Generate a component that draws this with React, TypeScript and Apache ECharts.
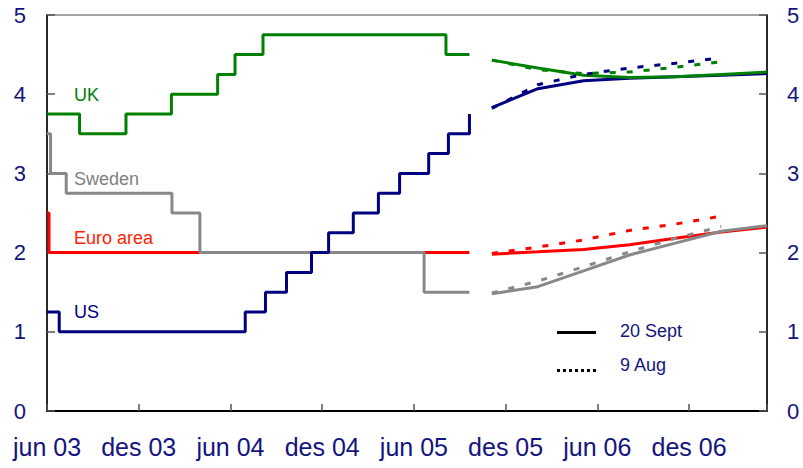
import React, { useEffect, useRef } from "react";
import * as echarts from "echarts";

// ---- tick labels ----
const xTickLabels = ["jun 03", "des 03", "jun 04", "des 04", "jun 05", "des 05", "jun 06", "des 06"];
const axisStart = "2003-06-01";
const axisEnd = "2007-05-04";

// ---- policy rates (change dates and new level) ----
const ukDates = ["2003-06-01", "2003-08-05", "2003-11-06", "2004-02-05", "2004-05-06", "2004-06-10", "2004-08-05", "2005-08-04", "2005-09-20"];
const ukRates = [3.75, 3.5, 3.75, 4.0, 4.25, 4.5, 4.75, 4.5, 4.5];

const usDates = ["2003-06-01", "2003-06-25", "2004-06-30", "2004-08-10", "2004-09-21", "2004-11-10", "2004-12-14", "2005-02-02", "2005-03-22", "2005-05-03", "2005-06-30", "2005-08-09", "2005-09-20"];
const usRates = [1.25, 1.0, 1.25, 1.5, 1.75, 2.0, 2.25, 2.5, 2.75, 3.0, 3.25, 3.5, 3.75];

const euroDates = ["2003-06-01", "2003-06-05", "2005-09-20"];
const euroRates = [2.5, 2.0, 2.0];

const swedenDates = ["2003-06-01", "2003-06-08", "2003-07-09", "2004-02-06", "2004-04-01", "2005-06-21", "2005-09-20"];
const swedenRates = [3.5, 3.0, 2.75, 2.5, 2.0, 1.5, 1.5];

// ---- forward rates ----
const fcDates = ["2005-11-04", "2006-02-04", "2006-05-04", "2006-08-04", "2006-11-04", "2007-02-04", "2007-05-04"];
// 20 Sept
const ukSep = [4.43, 4.33, 4.24, 4.21, 4.22, 4.25, 4.28];
const usSep = [3.83, 4.07, 4.17, 4.2, 4.22, 4.24, 4.26];
const euroSep = [1.98, 2.01, 2.04, 2.1, 2.18, 2.26, 2.32];
const swedenSep = [1.48, 1.57, 1.77, 1.97, 2.12, 2.27, 2.34];
// 9 Aug
const ukAug = [4.43, 4.31, 4.26, 4.28, 4.34, 4.41];
const usAug = [3.82, 4.12, 4.25, 4.33, 4.39, 4.46];
const euroAug = [1.99, 2.07, 2.16, 2.28, 2.36, 2.46];
const swedenAug = [1.49, 1.64, 1.82, 2.01, 2.18, 2.33];

const GREEN = "#008000";
const NAVY = "#000080";
const RED = "#ff0000";
const GRAY = "#888888";
const TEXT_NAVY = "#14147e";
const FONT = "'Liberation Sans', Arial, sans-serif";

function months(iso: string): number {
  const [y, mo, d] = iso.split("-").map(Number);
  const dim = new Date(y, mo, 0).getDate();
  const [y0, m0] = axisStart.split("-").map(Number);
  return (y - y0) * 12 + (mo - m0) + (d - 1) / dim;
}

function pairs(dates: string[], vals: number[]) {
  return vals.map((v, i) => [months(dates[i]), v]);
}

function stepSeries(name: string, dates: string[], vals: number[], color: string) {
  return {
    name,
    type: "line",
    step: "end",
    symbol: "none",
    data: pairs(dates, vals),
    lineStyle: { color, width: 3 },
    z: 3,
  };
}

function fcSeries(name: string, vals: number[], color: string, dashed: boolean) {
  return {
    name,
    type: "line",
    symbol: "none",
    data: pairs(fcDates, vals),
    lineStyle: { color, width: 3, type: dashed ? [6, 11] : "solid" },
    z: 3,
  };
}

export default function App() {
  const ref = useRef<HTMLDivElement>(null);
  useEffect(() => {
    if (!ref.current) return;
    const chart = echarts.init(ref.current, null, { renderer: "svg" });
    const yAxisBase = {
      type: "value",
      min: 0,
      max: 5,
      interval: 1,
      splitLine: { show: false },
      axisLine: { show: true, onZero: false, lineStyle: { color: "#000", width: 1.5 } },
      axisTick: { show: true, inside: true, length: 8, lineStyle: { color: "#555", width: 1.5 } },
    };
    chart.setOption({
      animation: false,
      grid: { left: 47, right: 36, top: 15, bottom: 57, show: true, borderColor: "#888", borderWidth: 1.5 },
      xAxis: {
        type: "value",
        min: 0,
        max: months(axisEnd),
        interval: 6,
        splitLine: { show: false },
        axisLine: { onZero: false, lineStyle: { color: "#000", width: 2 } },
        axisTick: { inside: true, length: 7, lineStyle: { color: "#555", width: 1.5 } },
        axisLabel: {
          margin: 23,
          fontSize: 25,
          fontFamily: FONT,
          color: TEXT_NAVY,
          formatter: (v: number) => {
            const i = Math.round(v / 6);
            return Math.abs(v - i * 6) < 1e-6 && xTickLabels[i] ? xTickLabels[i] : "";
          },
        },
      },
      yAxis: [
        {
          ...yAxisBase,
          position: "left",
          axisLabel: { margin: 21, fontSize: 22, fontFamily: FONT, color: TEXT_NAVY },
        },
        {
          ...yAxisBase,
          position: "right",
          axisLabel: { margin: 20, fontSize: 22, fontFamily: FONT, color: TEXT_NAVY },
        },
      ],
      series: [
        stepSeries("Euro area", euroDates, euroRates, RED),
        stepSeries("Sweden", swedenDates, swedenRates, GRAY),
        stepSeries("US", usDates, usRates, NAVY),
        stepSeries("UK", ukDates, ukRates, GREEN),
        fcSeries("Euro 20 Sept", euroSep, RED, false),
        fcSeries("Sweden 20 Sept", swedenSep, GRAY, false),
        fcSeries("US 20 Sept", usSep, NAVY, false),
        fcSeries("UK 20 Sept", ukSep, GREEN, false),
        fcSeries("Euro 9 Aug", euroAug, RED, true),
        fcSeries("Sweden 9 Aug", swedenAug, GRAY, true),
        fcSeries("US 9 Aug", usAug, NAVY, true),
        fcSeries("UK 9 Aug", ukAug, GREEN, true),
      ],
      graphic: [
        { type: "text", x: 74, y: 95, style: { text: "UK", fill: GREEN, fontSize: 18, fontFamily: FONT, verticalAlign: "middle" } },
        { type: "text", x: 74, y: 179, style: { text: "Sweden", fill: "#808080", fontSize: 18, fontFamily: FONT, verticalAlign: "middle" } },
        { type: "text", x: 74, y: 238, style: { text: "Euro area", fill: "#ff2200", fontSize: 18, fontFamily: FONT, verticalAlign: "middle" } },
        { type: "text", x: 74, y: 312, style: { text: "US", fill: NAVY, fontSize: 18, fontFamily: FONT, verticalAlign: "middle" } },
        { type: "line", shape: { x1: 557, y1: 332.5, x2: 596, y2: 332.5 }, style: { stroke: "#000", lineWidth: 3 } },
        { type: "line", shape: { x1: 557, y1: 370.5, x2: 596, y2: 370.5 }, style: { stroke: "#000", lineWidth: 3, lineDash: [3, 3] } },
        { type: "text", x: 620, y: 331, style: { text: "20 Sept", fill: TEXT_NAVY, fontSize: 18, fontFamily: FONT, verticalAlign: "middle" } },
        { type: "text", x: 620, y: 365, style: { text: "9 Aug", fill: TEXT_NAVY, fontSize: 18, fontFamily: FONT, verticalAlign: "middle" } },
      ],
    });
    return () => chart.dispose();
  }, []);
  return <div ref={ref} style={{ position: "fixed", left: 0, top: 0, width: 803, height: 468, background: "#fff" }} />;
}
